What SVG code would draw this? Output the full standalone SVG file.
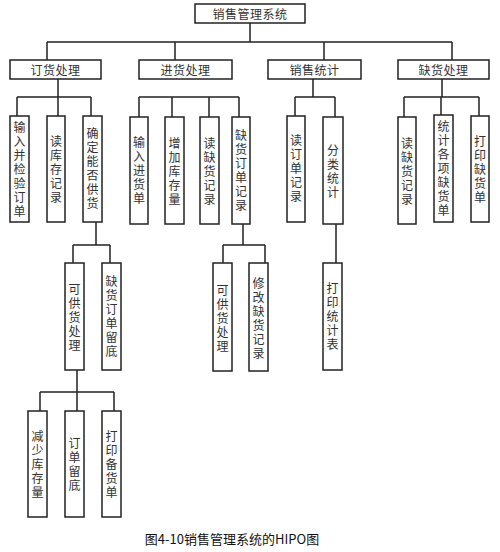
<svg xmlns="http://www.w3.org/2000/svg" width="500" height="552" viewBox="0 0 500 552">
<style>
.box{fill:#fff;stroke:#222;stroke-width:1.5}
.ln{fill:none;stroke:#222;stroke-width:1.5}
text{font-family:"Noto Sans CJK SC","Noto Sans",sans-serif;font-size:12px;fill:#333;text-anchor:middle;dominant-baseline:central}
.v{writing-mode:vertical-rl;text-orientation:upright;letter-spacing:2px}
.cap{font-size:13px;fill:#111}
</style>
<rect width="500" height="552" fill="#fff"/>
<g id="connectors">
<path class="ln" d="M250 23V42M47 42H452M47 42V60M175 42V60M324 42V60M452 42V60"/>
<path class="ln" d="M58 79V97M17 97H91M17 97V116M58 97V116M91 97V116"/>
<path class="ln" d="M139 97H239M139 97V117M172 97V117M209 97V117M239 97V117"/>
<path class="ln" d="M313 79V97M295 97H335M295 97V116M335 97V117M336 224V263"/>
<path class="ln" d="M442 79V97M404 97H479M404 97V117M441 97V115M479 97V116"/>
<path class="ln" d="M96 222V245M73 245H110M73 245V263M110 245V263"/>
<path class="ln" d="M77 370V392M40 392H114M40 392V411M77 392V411M114 392V411"/>
<path class="ln" d="M243 224V245M223 245H265M223 245V263M265 245V263"/>
</g>
<g id="root"><rect class="box" x="195" y="4" width="110" height="19"/><text x="250" y="13.5" letter-spacing="0.5">销售管理系统</text></g>
<g id="n-dinghuo"><rect class="box" x="10" y="60" width="91" height="19"/><text x="55.5" y="69.5" letter-spacing="0.5">订货处理</text></g>
<g id="n-jinhuo"><rect class="box" x="139" y="60" width="93" height="19"/><text x="185.5" y="69.5" letter-spacing="0.5">进货处理</text></g>
<g id="n-tongji"><rect class="box" x="268" y="60" width="93" height="19"/><text x="314.5" y="69.5" letter-spacing="0.5">销售统计</text></g>
<g id="n-quehuo"><rect class="box" x="398" y="60" width="91" height="19"/><text x="443.5" y="69.5" letter-spacing="0.5">缺货处理</text></g>

<g id="n-shuru"><rect class="box" x="10" y="116" width="19" height="106"/><text class="v" x="19.5" y="170">输入并检验订单</text></g>
<g id="n-dukucun"><rect class="box" x="47" y="116" width="18" height="106"/><text class="v" x="56" y="170">读库存记录</text></g>
<g id="n-queding"><rect class="box" x="83" y="116" width="19" height="106"/><text class="v" x="92.5" y="169">确定能否供货</text></g>

<g id="n-shurujinhuo"><rect class="box" x="130" y="117" width="18" height="107"/><text class="v" x="139" y="171">输入进货单</text></g>
<g id="n-zengjia"><rect class="box" x="165" y="117" width="19" height="107"/><text class="v" x="174.5" y="172">增加库存量</text></g>
<g id="n-duquehuo1"><rect class="box" x="200" y="117" width="19" height="107"/><text class="v" x="209.5" y="172">读缺货记录</text></g>
<g id="n-quehuodingdan"><rect class="box" x="232" y="117" width="18" height="107"/><text class="v" x="241" y="171">缺货订单记录</text></g>

<g id="n-dudingdan"><rect class="box" x="287" y="116" width="18" height="106"/><text class="v" x="296" y="169">读订单记录</text></g>
<g id="n-fenlei"><rect class="box" x="323" y="117" width="20" height="107"/><text class="v" x="333" y="172">分类统计</text></g>
<g id="n-dayintongji"><rect class="box" x="323" y="263" width="19" height="107"/><text class="v" x="332.5" y="317">打印统计表</text></g>

<g id="n-duquehuo2"><rect class="box" x="398" y="117" width="18" height="107"/><text class="v" x="407" y="172">读缺货记录</text></g>
<g id="n-tongjigexiang"><rect class="box" x="434" y="115" width="19" height="107"/><text class="v" x="443.5" y="169">统计各项缺货单</text></g>
<g id="n-dayinquehuo"><rect class="box" x="471" y="116" width="18" height="106"/><text class="v" x="480" y="170">打印缺货单</text></g>

<g id="n-kegonghuo1"><rect class="box" x="65" y="263" width="19" height="107"/><text class="v" x="74.5" y="318">可供货处理</text></g>
<g id="n-quehuoliudi"><rect class="box" x="102" y="263" width="19" height="107"/><text class="v" x="111.5" y="317">缺货订单留底</text></g>

<g id="n-jianshao"><rect class="box" x="28" y="411" width="19" height="106"/><text class="v" x="37.5" y="465">减少库存量</text></g>
<g id="n-dingdanliudi"><rect class="box" x="65" y="411" width="19" height="106"/><text class="v" x="74.5" y="465">订单留底</text></g>
<g id="n-dayinbeihuo"><rect class="box" x="102" y="411" width="19" height="106"/><text class="v" x="111.5" y="465">打印备货单</text></g>

<g id="n-kegonghuo2"><rect class="box" x="213" y="263" width="19" height="108"/><text class="v" x="222.5" y="319">可供货处理</text></g>
<g id="n-xiugai"><rect class="box" x="249" y="263" width="19" height="108"/><text class="v" x="258.5" y="319">修改缺货记录</text></g>

<text class="cap" x="232" y="538">图4-10销售管理系统的HIPO图</text>
</svg>
